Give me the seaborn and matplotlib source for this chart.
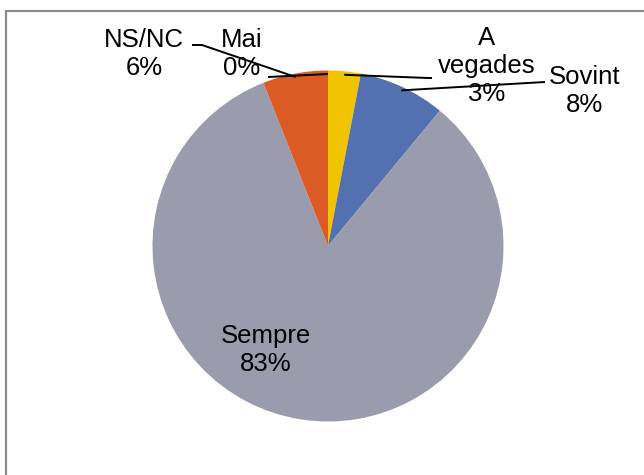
import matplotlib
matplotlib.use("Agg")
import numpy as np
import matplotlib.pyplot as plt
import seaborn as sns
from matplotlib.patches import Rectangle

# data (clockwise from 12 o'clock)
categories = ['A vegades', 'Sovint', 'Sempre', 'NS/NC', 'Mai']
shares = [3, 8, 83, 6, 0]
colors = ['#F2C300', '#5370B0', '#9A9BAC', '#DC5A24', '#A5A5A5']

sns.set_style('white')
plt.rcParams['font.family'] = ['Liberation Sans', 'DejaVu Sans']

W, H = 644, 475
fig = plt.figure(figsize=(W / 100, H / 100), dpi=100)
ax = fig.add_axes([0, 0, 1, 1])

cx, cy, R = 328, H - 246, 175.5
wedges, _ = ax.pie(shares, colors=colors, startangle=90, counterclock=False,
                   center=(cx, cy), radius=R, wedgeprops=dict(linewidth=0))
ax.set_xlim(0, W)
ax.set_ylim(0, H)
ax.set_aspect('equal')
ax.axis('off')

# label layout in pixels from top-left (x centre, last-line baseline)
label_pos = {'NS/NC': (144, 75), 'Mai': (242, 75), 'A vegades': (487, 101),
             'Sovint': (585, 112), 'Sempre': (266, 371)}
leaders = {'NS/NC': [(202, 45), (192, 45)], 'Mai': [(268, 77)],
           'A vegades': [(428, 78), (432, 78)], 'Sovint': [(545, 82)]}

for w, cat, val in zip(wedges, categories, shares):
    tx, ty = label_pos[cat]
    ax.text(tx, H - ty, f"{cat.replace(' ', chr(10))}\n{val}%", ha='center', va='baseline',
            fontsize=18.5, linespacing=1.2, color='black')
    if cat in leaders:
        mid = np.deg2rad((w.theta1 + w.theta2) / 2)
        pts = [(cx + 0.98 * R * np.cos(mid), cy + 0.98 * R * np.sin(mid))]
        pts += [(px, H - py) for px, py in leaders[cat]]
        xs, ys = zip(*pts)
        ax.plot(xs, ys, color='black', lw=1.4, solid_capstyle='butt')

# chart frame
fig.add_artist(Rectangle((6.2 / W, -0.05), 1.1, 1 - 11.2 / H + 0.05, transform=fig.transFigure,
                         fill=False, edgecolor='#8C8C8C', lw=1.6))

fig.savefig('out.png', dpi=100)
